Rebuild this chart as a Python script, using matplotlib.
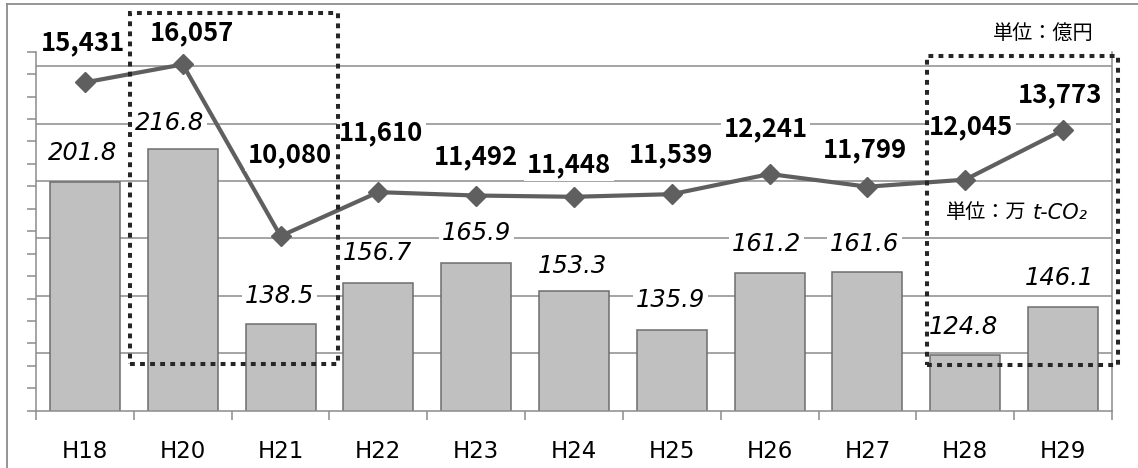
import numpy as np
import matplotlib.pyplot as plt
from matplotlib import transforms
from matplotlib.patches import Rectangle
from matplotlib.lines import Line2D

# fiscal years (Heisei)
years = ["H18", "H20", "H21", "H22", "H23", "H24", "H25", "H26", "H27", "H28", "H29"]

# emissions, 万 t-CO2 (bars)
co2 = [201.8, 216.8, 138.5, 156.7, 165.9, 153.3, 135.9, 161.2, 161.6, 124.8, 146.1]

# amount, 億円 (line)
amount = [15431, 16057, 10080, 11610, 11492, 11448, 11539, 12241, 11799, 12045, 13773]

# label offsets in pixels (dx, dy) from the mark
bar_label_off = [(-2, 29), (-13, 26), (-1, 28), (-1, 30), (0, 30), (-2, 25),
                 (-1, 30), (-3, 29), (-3, 28), (-2, 28), (-4, 29)]
line_label_off = [(-2, 40), (9, 32), (9, 81), (3, 59), (0, 39), (-5, 32),
                  (-1, 39), (-4, 45), (-3, 37), (6, 53), (-3, 35)]

W, H = 1138, 468
GREY = "#8c8c8c"

fig = plt.figure(figsize=(W / 100, H / 100), dpi=100)
left, right, top, bottom = 36, 1112, 51.7, 410.7
ax = fig.add_axes([left / W, 1 - bottom / H, (right - left) / W, (bottom - top) / H])
ax2 = ax.twinx()

x = np.arange(len(years))
ax.set_xlim(-0.5, len(years) - 0.5)
ax.set_ylim(100, 260)
ax2.set_ylim(4000, 16500)

# gridlines follow the line axis but sit behind the bars
grid_tr = transforms.blended_transform_factory(ax.transAxes, ax2.transData)
for g in np.arange(6000, 16001, 2000):
    ax.add_line(Line2D([0, 1.007], [g, g], transform=grid_tr, color=GREY,
                       lw=1.1, zorder=0))

ax.bar(x, co2, width=0.715, color="#c0c0c0", edgecolor="#6d6d6d",
       linewidth=1.1, zorder=2)

for i, v in enumerate(co2):
    dx, dy = bar_label_off[i]
    ax.annotate(f"{v:.1f}", xy=(i, v), xytext=(dx, dy), textcoords="offset pixels",
                ha="center", va="center", fontsize=17.5, style="italic",
                family="DejaVu Sans", color="black", zorder=3,
                bbox=dict(boxstyle="square,pad=0.12", fc="white", ec="none"))

ax2.plot(x, amount, color="#5f5f5f", lw=3, marker="D", markersize=10,
         markeredgecolor="#5f5f5f", zorder=3)

for i, v in enumerate(amount):
    dx, dy = line_label_off[i]
    ax2.annotate(f"{v:,}", xy=(i, v), xytext=(dx, dy), textcoords="offset pixels",
                 ha="center", va="center", fontsize=18.5, weight="bold",
                 family="Noto Sans CJK JP", color="black", zorder=4,
                 bbox=dict(boxstyle="square,pad=0.1", fc="white", ec="none"))

# axes styling
for sp in ["top", "right"]:
    ax.spines[sp].set_visible(False)
for sp in ["top", "left", "bottom"]:
    ax2.spines[sp].set_visible(False)
ax.spines["left"].set_color(GREY)
ax.spines["bottom"].set_color(GREY)
ax.spines["left"].set_linewidth(1.1)
ax.spines["bottom"].set_linewidth(1.1)
ax2.spines["right"].set_color(GREY)
ax2.spines["right"].set_linewidth(1.1)

ax.set_yticks(np.arange(100, 261, 10))
ax.tick_params(axis="y", direction="out", length=6.2, width=1.1, color=GREY,
               labelleft=False)
ax2.set_yticks([])

ax.set_xticks(x, years)
ax.set_xticks(np.arange(-0.5, len(years), 1), minor=True)
ax.tick_params(axis="x", which="major", length=0, pad=21, labelsize=16.5,
               labelcolor="black")
ax.tick_params(axis="x", which="minor", direction="out", length=6.5, width=1.1,
               color=GREY)

# unit notes
fig.text(1094 / W, 1 - 33 / H, "単位：億円", ha="right", va="center",
         fontsize=14.5, family="Noto Sans CJK JP")
t1 = fig.text(946 / W, 1 - 213 / H, "単位：万", ha="left", va="center",
              fontsize=14.5, family="Noto Sans CJK JP")
# italic part just right of the CJK part
fig.add_artist(plt.Annotation("t-CO\u2082", xy=(1, 0.5), xycoords=t1,
                              xytext=(6, 0), textcoords="offset pixels",
                              ha="left", va="center", fontsize=15,
                              style="italic", family="DejaVu Sans"))

# dotted highlight boxes
for (x0, y0, x1, y1) in [(130, 13, 338, 364), (927, 56, 1118, 365)]:
    fig.add_artist(Rectangle((x0 / W, 1 - y1 / H), (x1 - x0) / W, (y1 - y0) / H,
                             transform=fig.transFigure, fill=False,
                             ec="#262626", lw=2.9, ls=(0, (1.2, 1.3)), zorder=10))

# chart frame
fig.add_artist(Line2D([7 / W, 1], [1 - 4 / H, 1 - 4 / H], transform=fig.transFigure,
                      color=GREY, lw=1.3))
fig.add_artist(Line2D([7 / W, 7 / W], [0, 1 - 4 / H], transform=fig.transFigure,
                      color=GREY, lw=1.3))

fig.savefig("out.png", dpi=100)
